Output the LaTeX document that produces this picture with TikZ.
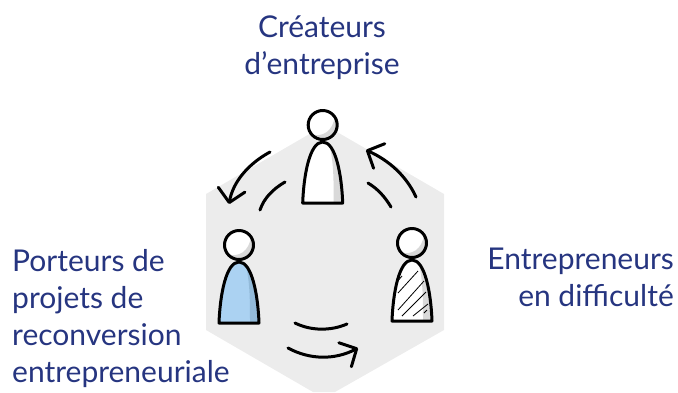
\documentclass[tikz,border=0pt]{standalone}
\usepackage{fontspec}
\setmainfont{Lato}
\usetikzlibrary{arrows.meta}
\definecolor{navy}{HTML}{263580}
\definecolor{hexgrey}{HTML}{ECECEC}
\definecolor{sidegrey}{HTML}{D9D9D9}
\definecolor{paleblue}{HTML}{ABD2F2}
\definecolor{sideblue}{HTML}{93BAD9}
\newcommand{\bodypath}{(-20,78) .. controls (-19,50) and (-13,17) .. (0,17) .. controls (13,17) and (19,50) .. (20,78) -- cycle}
\tikzset{%
  grouplabel/.style={text=navy,font=\fontsize{30}{37}\selectfont,inner sep=0},
  stroke/.style={draw=black,line width=3pt,line cap=round,line join=round},
  sweep/.style={stroke,-{Straight Barb[length=13pt,width=27pt,line width=3pt,round]}}
}
\begin{document}
\begin{tikzpicture}[x=1pt,y=-1pt]
  \useasboundingbox (0,0) rectangle (678,392);
  % hexagon
  \fill[hexgrey] (325,125) -- (444,194) -- (444,330) -- (335,392) -- (313,392) -- (206,330) -- (206,194) -- cycle;
  % people
  \foreach \px/\py/\bodycol/\sidecol in {322.7/125/white/sidegrey, 239/245/paleblue/sideblue, 412/243/white/sidegrey}{
    \begin{scope}[shift={(\px,\py)}]
      \fill[\bodycol] \bodypath;
      \begin{scope}
        \clip \bodypath;
        \fill[\sidecol] (6,17) .. controls (11,35) and (11,55) .. (11,78) -- (22,78) -- (22,17) -- cycle;
      \end{scope}
      \fill[white] (0,0) circle (14.5);
      \begin{scope}
        \clip (0,0) circle (14.5);
        \fill[sidegrey] (-12,9) .. controls (0,13) and (10,6) .. (12,-8) -- (18,-8) -- (18,18) -- (-12,18) -- cycle;
      \end{scope}
      \draw[stroke] (0,0) circle (14.5);
      \draw[stroke] \bodypath;
    \end{scope}
  }
  % hatching
  \foreach \xa/\ya/\xb/\yb in {402/276/396/283, 418/271/398/293, 424/281/398/310, 426/292/402/316, 428/304/413/316, 427/310/424/313}{
    \draw[black,line width=.8pt] (\xa,\ya) -- (\xb,\yb);
  }
  % cycle
  \coordinate (tlA) at (270,152);
  \coordinate (tlB) at (229,204);
  \coordinate (trA) at (416,197);
  \coordinate (trB) at (366,150);
  \coordinate (brA) at (288,348);
  \coordinate (brB) at (358,348);
  \draw[sweep] (tlA) .. controls (248,164) and (233,182) .. (tlB);
  \draw[sweep] (trA) .. controls (406,175) and (388,160) .. (trB);
  \draw[sweep] (brA) .. controls (310,360) and (335,360) .. (brB);
  \coordinate (ilA) at (285,182);
  \coordinate (ilB) at (260,210);
  \coordinate (irA) at (368,183);
  \coordinate (irB) at (391,207);
  \coordinate (ibA) at (295,323);
  \coordinate (ibB) at (347,324);
  \draw[stroke] (ilA) .. controls (273,189) and (264,198) .. (ilB);
  \draw[stroke] (irA) .. controls (378,189) and (385,197) .. (irB);
  \draw[stroke] (ibA) .. controls (311,331) and (331,331) .. (ibB);
  % labels
  \node[grouplabel,align=center,anchor=base] (createurs) at (322,74) {Créateurs\\d’entreprise};
  \node[grouplabel,align=left,anchor=base west] (porteurs) at (12,382) {Porteurs de\\projets de\\reconversion\\entrepreneuriale};
  \node[grouplabel,align=right,anchor=base east] (difficulte) at (674,306) {Entrepreneurs\\en difficulté};
\end{tikzpicture}
\end{document}
